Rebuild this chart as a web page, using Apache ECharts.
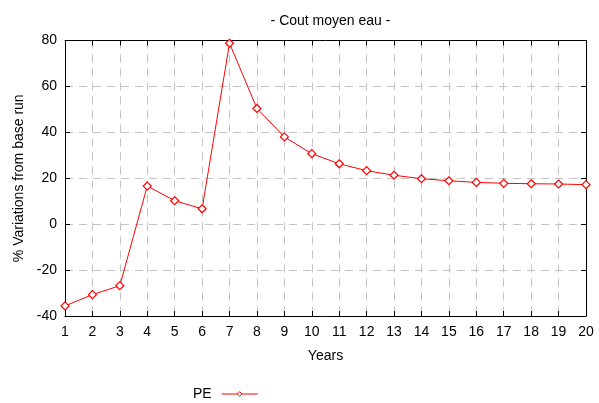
<!DOCTYPE html>
<html>
<head>
<meta charset="utf-8">
<script src="https://cdn.jsdelivr.net/npm/echarts@6/dist/echarts.min.js"></script>
<style>
  html, body { margin: 0; padding: 0; background: #fff; }
  #chart { width: 599px; height: 403px; }
</style>
</head>
<body>
<div id="chart"></div>
<script>
// years on the x axis
const years = [1, 2, 3, 4, 5, 6, 7, 8, 9, 10, 11, 12, 13, 14, 15, 16, 17, 18, 19, 20]
// PE series, % variation from base run
const peValues = [-35.6, -30.7, -26.8, 16.6, 10.2, 6.7, 78.8, 50.4, 38.0, 30.7,
  26.3, 23.3, 21.3, 19.8, 18.9, 18.2, 17.8, 17.6, 17.5, 17.2]

const font = 'Liberation Sans, Arial, sans-serif'
const gridLine = { show: true, lineStyle: { color: '#c4c4c4', type: [8, 6], width: 1 } }

const chart = echarts.init(document.getElementById('chart'))
chart.setOption({
  animation: false,
  title: {
    text: '- Cout moyen eau -',
    left: 325.5,
    textAlign: 'center',
    top: 9,
    textStyle: { fontFamily: font, fontSize: 14, fontWeight: 'normal', color: '#000' }
  },
  legend: {
    data: ['PE'],
    left: 188,
    top: 382,
    align: 'right',
    itemWidth: 36,
    itemHeight: 6,
    itemGap: 6,
    lineStyle: { width: 1 },
    itemStyle: { color: '#fff', borderColor: '#ff0000', borderWidth: 1 },
    textStyle: { fontFamily: font, fontSize: 14, color: '#000', padding: [0, 5, 0, 0] }
  },
  grid: { left: 65, right: 13, top: 40.5, bottom: 87 },
  xAxis: [
    {
      type: 'value',
      min: 1,
      max: 20,
      interval: 1,
      name: 'Years',
      nameLocation: 'middle',
      nameGap: 33,
      nameTextStyle: { fontFamily: font, fontSize: 14, color: '#000' },
      axisLine: { onZero: false, lineStyle: { color: '#000', width: 1 } },
      axisTick: { inside: true, length: 5, lineStyle: { color: '#000' } },
      axisLabel: { fontFamily: font, fontSize: 14, color: '#000', margin: 9 },
      splitLine: gridLine
    },
    {
      type: 'value',
      position: 'top',
      min: 1,
      max: 20,
      interval: 1,
      axisLine: { onZero: false, lineStyle: { color: '#000', width: 1 } },
      axisTick: { inside: true, length: 5, lineStyle: { color: '#000' } },
      axisLabel: { show: false },
      splitLine: { show: false }
    }
  ],
  yAxis: [
    {
      type: 'value',
      min: -40,
      max: 80,
      interval: 20,
      name: '% Variations from base run',
      nameLocation: 'middle',
      nameGap: 39,
      nameTextStyle: { fontFamily: font, fontSize: 14, color: '#000' },
      axisLine: { show: true, onZero: false, lineStyle: { color: '#000', width: 1 } },
      axisTick: { show: true, inside: true, length: 5, lineStyle: { color: '#000' } },
      axisLabel: { fontFamily: font, fontSize: 14, color: '#000', margin: 8 },
      splitLine: gridLine
    },
    {
      type: 'value',
      position: 'right',
      min: -40,
      max: 80,
      interval: 20,
      axisLine: { show: true, onZero: false, lineStyle: { color: '#000', width: 1 } },
      axisTick: { show: true, inside: true, length: 5, lineStyle: { color: '#000' } },
      axisLabel: { show: false },
      splitLine: { show: false }
    }
  ],
  series: [
    {
      name: 'PE',
      type: 'line',
      data: years.map((y, i) => [y, peValues[i]]),
      symbol: 'diamond',
      symbolSize: 8,
      showSymbol: true,
      lineStyle: { color: '#ff0000', width: 1 },
      itemStyle: { color: '#fff', borderColor: '#ff0000', borderWidth: 1.2 }
    }
  ]
})
</script>
</body>
</html>
